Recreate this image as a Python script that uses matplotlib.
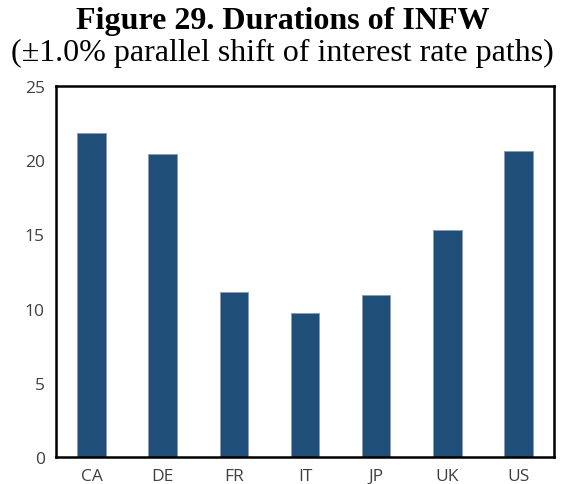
import matplotlib
matplotlib.use("Agg")
import matplotlib.pyplot as plt

countries = ["CA", "DE", "FR", "IT", "JP", "UK", "US"]
durations = [21.8, 20.4, 11.1, 9.7, 10.9, 15.3, 20.6]

fig = plt.figure(figsize=(5.65, 4.85), dpi=100)
ax = fig.add_axes([56 / 565, 1 - 458 / 485, (554 - 56) / 565, (458 - 87) / 485])

ax.bar(countries, durations, width=0.4, color="#1F4E79", edgecolor="#8A9BB0", linewidth=0.6)
ax.set_ylim(0, 25)
ax.set_xlim(-0.5, len(countries) - 0.5)
ax.set_yticks(range(0, 26, 5))

for s in ax.spines.values():
    s.set_linewidth(1.8)
    s.set_color("black")
ax.tick_params(length=0, labelsize=12.5, colors="#404040", pad=8)
for lab in ax.get_xticklabels() + ax.get_yticklabels():
    lab.set_family("Open Sans")

fig.text(0.5, 1 - 21 / 485, "Figure 29. Durations of INFW", ha="center", va="center",
         family="Liberation Serif", weight="bold", fontsize=23)
fig.text(0.5, 1 - 53 / 485, "(\u00b11.0% parallel shift of interest rate paths)", ha="center",
         va="center", family="Liberation Serif", fontsize=23)

fig.savefig("out.png", dpi=100)
